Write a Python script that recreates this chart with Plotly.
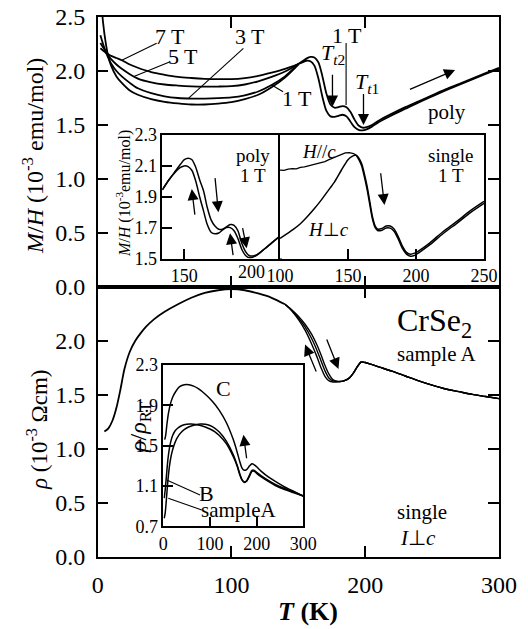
import plotly.graph_objects as go

# ---------------- data ----------------
# Upper main panel: M/H (10^-3 emu/mol) vs T (K), polycrystal, several fields
T_FIELD = [2, 4, 6, 8, 10, 14, 18, 24, 30, 40, 50, 60, 70, 80, 90, 100, 110, 120, 130, 140, 150]
MH_7T = [2.21, 2.19, 2.17, 2.155, 2.14, 2.12, 2.10, 2.06, 2.03, 1.99, 1.965, 1.945, 1.935, 1.928, 1.925,
         1.925, 1.935, 1.955, 1.985, 2.02, 2.065]
MH_5T = [2.26, 2.22, 2.18, 2.14, 2.11, 2.06, 2.02, 1.97, 1.93, 1.895, 1.875, 1.865, 1.858, 1.855, 1.856,
         1.86, 1.875, 1.905, 1.945, 1.995, 2.065]
MH_3T = [2.33, 2.25, 2.18, 2.12, 2.07, 2.00, 1.95, 1.89, 1.84, 1.795, 1.765, 1.75, 1.745, 1.745, 1.748,
         1.755, 1.775, 1.81, 1.87, 1.95, 2.065]
MH_1T = [2.75, 2.45, 2.26, 2.13, 2.05, 1.95, 1.89, 1.82, 1.78, 1.74, 1.715, 1.70, 1.69, 1.69, 1.698,
         1.712, 1.74, 1.78, 1.85, 1.94, 2.06]

T_HYST = [150, 153, 156, 159, 162, 165, 168, 171, 174, 177, 180, 183, 186, 189, 192, 195, 198, 201,
          205, 210, 220, 230, 240, 250, 260, 270, 280, 290, 300]
MH_WARM = [2.065, 2.09, 2.115, 2.13, 2.125, 2.08, 1.95, 1.79, 1.69, 1.66, 1.665, 1.675, 1.665, 1.62,
           1.55, 1.495, 1.475, 1.48, 1.50, 1.54, 1.605, 1.665, 1.72, 1.775, 1.83, 1.88, 1.93, 1.98, 2.03]
MH_COOL = [2.065, 2.08, 2.095, 2.09, 2.05, 1.93, 1.76, 1.63, 1.58, 1.575, 1.585, 1.595, 1.58, 1.53,
           1.48, 1.455, 1.45, 1.46, 1.485, 1.525, 1.59, 1.65, 1.71, 1.765, 1.82, 1.872, 1.922, 1.972, 2.02]

# Upper-left inset: poly, 1 T
T_POLY = [138.5, 142, 145, 148, 150, 152, 154, 156, 158, 160, 162, 164, 166, 168, 170, 172, 174, 176,
          178, 180, 182, 184, 186, 188, 192, 196, 200]
MH_POLY_UP = [1.944, 2.01, 2.06, 2.11, 2.14, 2.15, 2.14, 2.09, 2.01, 1.94, 1.83, 1.75, 1.71, 1.69, 1.69,
              1.705, 1.72, 1.715, 1.68, 1.60, 1.545, 1.518, 1.517, 1.525, 1.563, 1.604, 1.645]
MH_POLY_LO = [1.944, 2.01, 2.055, 2.09, 2.10, 2.095, 2.07, 2.00, 1.90, 1.81, 1.72, 1.67, 1.66, 1.665,
              1.685, 1.70, 1.70, 1.68, 1.63, 1.56, 1.52, 1.505, 1.51, 1.522, 1.563, 1.604, 1.645]

# Upper-right inset: single crystal, 1 T
T_PAR = [100, 103, 106, 109, 112, 115, 118, 121, 124, 127, 130, 133, 136, 139, 142, 145, 148, 151, 154, 156]
MH_PAR = [2.073, 2.071, 2.079, 2.082, 2.080, 2.090, 2.094, 2.100, 2.106, 2.112, 2.120, 2.128, 2.140,
          2.150, 2.162, 2.174, 2.184, 2.186, 2.180, 2.170]
T_PERP = [100, 105, 110, 115, 120, 125, 130, 135, 140, 145, 150, 153, 156]
MH_PERP = [1.63, 1.66, 1.69, 1.725, 1.77, 1.82, 1.875, 1.935, 1.995, 2.07, 2.14, 2.162, 2.170]
T_SINGLE = [156, 158, 160, 162, 164, 166, 168, 170, 172, 175, 178, 181, 184, 187, 190, 193, 196, 199,
            202, 210, 220, 230, 240, 250]
MH_SINGLE_A = [2.17, 2.15, 2.115, 2.05, 1.97, 1.87, 1.77, 1.71, 1.69, 1.695, 1.71, 1.71, 1.69, 1.64,
               1.58, 1.54, 1.528, 1.535, 1.55, 1.60, 1.675, 1.74, 1.81, 1.87]
MH_SINGLE_B = [2.17, 2.14, 2.10, 2.03, 1.95, 1.85, 1.755, 1.70, 1.68, 1.683, 1.697, 1.697, 1.675, 1.625,
               1.565, 1.528, 1.515, 1.52, 1.537, 1.588, 1.662, 1.728, 1.797, 1.857]

# Lower main panel: resistivity (10^-3 Ohm cm) vs T (K), single crystal sample A
T_RHO = [5, 8, 11, 14, 17, 20, 24, 28, 32, 36, 42, 50, 60, 70, 80, 90, 100, 110, 120, 130, 140]
RHO = [1.16, 1.19, 1.26, 1.38, 1.55, 1.74, 1.90, 2.00, 2.07, 2.13, 2.20, 2.27, 2.34, 2.40, 2.445, 2.47,
       2.48, 2.47, 2.44, 2.40, 2.34]
T_RHO_HYST = [140, 145, 150, 155, 160, 164, 167, 170, 173, 176, 180, 184, 188, 191, 194, 197, 200, 204,
              210, 220, 230, 240, 250, 260, 270, 280, 290, 300]
RHO_OUT = [2.34, 2.29, 2.23, 2.155, 2.06, 1.96, 1.87, 1.77, 1.69, 1.64, 1.625, 1.63, 1.655, 1.70, 1.76,
           1.805, 1.80, 1.785, 1.76, 1.72, 1.675, 1.63, 1.59, 1.555, 1.53, 1.505, 1.485, 1.465]
RHO_MID = [2.34, 2.285, 2.215, 2.13, 2.02, 1.91, 1.815, 1.72, 1.655, 1.63, 1.623, 1.63, 1.655, 1.70,
           1.76, 1.805, 1.80, 1.785, 1.76, 1.72, 1.675, 1.63, 1.59, 1.555, 1.53, 1.505, 1.485, 1.465]
RHO_IN = [2.34, 2.28, 2.20, 2.10, 1.97, 1.85, 1.75, 1.67, 1.63, 1.62, 1.622, 1.63, 1.655, 1.70, 1.76,
          1.805, 1.80, 1.785, 1.76, 1.72, 1.675, 1.63, 1.59, 1.555, 1.53, 1.505, 1.485, 1.465]

# Lower inset: rho / rho_RT for samples A, B, C
T_C = [3, 5, 8, 11, 15, 20, 27, 35, 45, 55, 65, 75, 90, 105, 120, 135, 150, 158, 164, 169, 174, 179,
       185, 190, 195, 200, 210, 225, 240, 260, 280, 300]
NORM_C = [1.56, 1.60, 1.72, 1.82, 1.91, 1.98, 2.04, 2.085, 2.105, 2.105, 2.09, 2.065, 2.01, 1.94, 1.85,
          1.73, 1.56, 1.44, 1.34, 1.275, 1.255, 1.265, 1.30, 1.32, 1.31, 1.29, 1.245, 1.19, 1.145, 1.09,
          1.045, 1.0]
T_AB = [2, 4, 6, 8, 10, 13, 16, 20, 25, 30, 40, 50, 60, 70, 80, 90, 100, 110, 120, 135, 150, 158, 164,
        169, 174, 179, 185, 190, 195, 200, 210, 225, 240, 260, 280, 300]
NORM_A = [0.78, 0.83, 0.93, 1.05, 1.16, 1.29, 1.38, 1.46, 1.53, 1.58, 1.64, 1.675, 1.695, 1.708, 1.714,
          1.712, 1.70, 1.675, 1.635, 1.545, 1.41, 1.31, 1.22, 1.16, 1.14, 1.155, 1.21, 1.255, 1.255,
          1.235, 1.20, 1.155, 1.115, 1.075, 1.04, 1.0]
NORM_B = [0.98, 1.06, 1.16, 1.27, 1.37, 1.47, 1.54, 1.60, 1.645, 1.67, 1.70, 1.713, 1.715, 1.71, 1.70,
          1.685, 1.665, 1.64, 1.60, 1.52, 1.39, 1.30, 1.21, 1.155, 1.135, 1.15, 1.20, 1.245, 1.245,
          1.225, 1.19, 1.145, 1.105, 1.065, 1.033, 1.0]

# tick values / labels
MAIN_T_TICKS = [0, 100, 200, 300]
MAIN_Y_TICKS = [0.0, 0.5, 1.0, 1.5, 2.0, 2.5]
INSET_MH_TICKS = [1.5, 1.7, 1.9, 2.1, 2.3]
INSET_POLY_T_TICKS = [150]
INSET_SINGLE_T_TICKS = [100, 150, 200, 250]
INSET_RHO_TICKS = [0.7, 1.1, 1.5, 1.9, 2.3]
INSET_RHO_T_TICKS = [0, 100, 200, 300]

# ---------------- layout helpers ----------------
W, H = 528, 629
FONT = "Liberation Serif"


def fx(px):
    return px / W


def fy(py):
    return 1 - py / H


MAIN_X = [fx(97.7), fx(499)]
TOP_Y = [fy(287), fy(17)]
BOT_Y = [fy(556.7), fy(287)]
INL_X = [fx(162.3), fx(280)]
INR_X = [fx(280), fx(484)]
INT_Y = [fy(258.5), fy(135)]
INB_X = [fx(163.3), fx(303.3)]
INB_Y = [fy(526.3), fy(365)]

fig = go.Figure()
LINE = dict(color="black", width=1.8, shape="spline", smoothing=0.8)
LINE_IN = dict(color="black", width=1.5, shape="spline", smoothing=0.8)


def add(x, y, xa, ya, line):
    fig.add_trace(go.Scatter(x=x, y=y, mode="lines", line=line, xaxis=xa, yaxis=ya,
                             showlegend=False, hoverinfo="skip"))


for mh in (MH_7T, MH_5T, MH_3T, MH_1T):
    add(T_FIELD, mh, "x", "y", LINE)
add(T_HYST, MH_WARM, "x", "y", LINE)
add(T_HYST, MH_COOL, "x", "y", LINE)

add(T_POLY, MH_POLY_UP, "x3", "y3", LINE_IN)
add(T_POLY, MH_POLY_LO, "x3", "y3", LINE_IN)

add(T_PAR, MH_PAR, "x4", "y4", dict(color="black", width=1.3, shape="linear"))
add(T_PERP, MH_PERP, "x4", "y4", LINE_IN)
add(T_SINGLE, MH_SINGLE_A, "x4", "y4", LINE_IN)
add(T_SINGLE, MH_SINGLE_B, "x4", "y4", LINE_IN)

add(T_RHO, RHO, "x2", "y2", LINE)
for rr in (RHO_OUT, RHO_MID, RHO_IN):
    add(T_RHO_HYST, rr, "x2", "y2", dict(color="black", width=1.4, shape="spline", smoothing=0.8))

add(T_C, NORM_C, "x5", "y5", LINE_IN)
add(T_AB, NORM_B, "x5", "y5", LINE_IN)
add(T_AB, NORM_A, "x5", "y5", LINE_IN)

main_ax = dict(showline=True, linecolor="black", linewidth=1.5, mirror="ticks", ticks="inside",
               ticklen=11, tickwidth=1.5, tickcolor="black", showgrid=False, zeroline=False,
               automargin=False, ticklabelstandoff=6,
               tickfont=dict(family=FONT, size=24, color="black"))
in_ax = dict(showline=True, linecolor="black", linewidth=1.5, mirror=True, ticks="inside",
             ticklen=10, tickwidth=1.5, tickcolor="black", showgrid=False, zeroline=False,
             automargin=False,
             tickfont=dict(family=FONT, size=18, color="black"))

fig.update_layout(
    template="none",
    width=W, height=H, autosize=False, margin=dict(l=0, r=0, t=0, b=0, pad=0),
    paper_bgcolor="white", plot_bgcolor="white", showlegend=False,
    font=dict(family=FONT, color="black"),
    xaxis=dict(main_ax, domain=MAIN_X, range=[0, 300], tickvals=[100, 200], showticklabels=False,
               anchor="y"),
    yaxis=dict(main_ax, domain=TOP_Y, range=[0, 2.5], tickvals=MAIN_Y_TICKS,
               ticktext=[f"{v:.1f}" for v in MAIN_Y_TICKS], anchor="x"),
    xaxis2=dict(main_ax, domain=MAIN_X, range=[0, 300], tickvals=MAIN_T_TICKS,
                ticktext=[str(v) for v in MAIN_T_TICKS], anchor="y2"),
    yaxis2=dict(main_ax, domain=BOT_Y, range=[0, 2.5], tickvals=MAIN_Y_TICKS[:-1] + [2.5],
                ticktext=[f"{v:.1f}" for v in MAIN_Y_TICKS[:-1]] + [""], anchor="x2"),
    xaxis3=dict(in_ax, domain=INL_X, range=[138.5, 200], tickvals=INSET_POLY_T_TICKS,
                ticktext=[str(v) for v in INSET_POLY_T_TICKS], anchor="y3"),
    yaxis3=dict(in_ax, domain=INT_Y, range=[1.5, 2.3], tickvals=INSET_MH_TICKS,
                ticktext=[f"{v:.1f}" for v in INSET_MH_TICKS], anchor="x3"),
    xaxis4=dict(in_ax, domain=INR_X, range=[100, 250], tickvals=INSET_SINGLE_T_TICKS,
                ticktext=[str(v) for v in INSET_SINGLE_T_TICKS], anchor="y4"),
    yaxis4=dict(in_ax, domain=INT_Y, range=[1.5, 2.3], tickvals=[], showticklabels=False,
                anchor="x4"),
    xaxis5=dict(in_ax, domain=INB_X, range=[0, 300], tickvals=INSET_RHO_T_TICKS,
                ticktext=[str(v) for v in INSET_RHO_T_TICKS], anchor="y5"),
    yaxis5=dict(in_ax, domain=INB_Y, range=[0.7, 2.3], tickvals=INSET_RHO_TICKS,
                ticktext=[f"{v:.1f}" for v in INSET_RHO_TICKS], anchor="x5"),
)

ann = []
shapes = []


def text(x, y, s, size, xref="x", yref="y", angle=0, xanchor="center", yanchor="middle", **kw):
    ann.append(dict(x=x, y=y, xref=xref, yref=yref, text=s, showarrow=False, textangle=angle,
                    xanchor=xanchor, yanchor=yanchor,
                    font=dict(family=FONT, size=size, color="black"), **kw))


def arrow(x0, y0, x1, y1, xref="x", yref="y", size=1.7):
    ann.append(dict(x=x1, y=y1, ax=x0, ay=y0, xref=xref, yref=yref, axref=xref, ayref=yref,
                    text="", showarrow=True, arrowhead=2, arrowsize=size, arrowwidth=1.3,
                    arrowcolor="black", standoff=0, startstandoff=0))


def seg(x0, y0, x1, y1, xref="x", yref="y", width=1.1):
    shapes.append(dict(type="line", x0=x0, y0=y0, x1=x1, y1=y1, xref=xref, yref=yref,
                       line=dict(color="black", width=width)))


# axis titles
text(fx(33), fy(156), "<i>M</i>/<i>H</i> (10<sup>-3</sup> emu/mol)", 24, "paper", "paper", -90)
text(fx(37), fy(430), "<i>ρ</i> (10<sup>-3</sup> Ωcm)", 23, "paper", "paper", -90)
text(fx(308), fy(611), "<b><i>T</i> (K)</b>", 26, "paper", "paper")
text(fx(123), fy(194), "<i>M</i>/<i>H</i> (10<sup>-3</sup>emu/mol)", 16, "paper", "paper", -90)
text(fx(140), fy(428), "<i>ρ</i>/<i>ρ</i><sub>RT</sub>", 24, "paper", "paper", -90)
# "200" label of the left inset, pushed left of the shared edge
text(200, fy(272), "200", 18, "x3", "paper", xanchor="right", xshift=-13)

# upper main panel labels
text(54.1, 2.318, "7 T", 22)
text(63.8, 2.13, "5 T", 22)
text(113.9, 2.318, "3 T", 22)
text(148.8, 1.747, "1 T", 22)
text(186.5, 2.333, "1 T", 22)
text(176.2, 2.16, "<i>T</i><sub><i>t</i>2</sub>", 22)
text(201.2, 1.886, "<i>T</i><sub><i>t</i>1</sub>", 22)
text(261, 1.62, "poly", 21)
seg(18, 2.10, 44.1, 2.256)
seg(26.6, 1.947, 54.1, 2.086)
seg(67.8, 1.747, 108.9, 2.21)
seg(130.1, 1.87, 138.6, 1.808)
seg(185.7, 2.26, 185.7, 1.685)
arrow(175.5, 1.98, 175.5, 1.67)
arrow(198.7, 1.80, 198.7, 1.50)
arrow(232.3, 1.824, 267.2, 2.01)

# upper-left inset
text(186, 2.17, "poly", 19, "x3", "y3")
text(186, 2.04, "1 T", 19, "x3", "y3")
arrow(155.6, 1.775, 153.9, 1.95, "x3", "y3")
arrow(166.0, 2.03, 167.8, 1.80, "x3", "y3")
arrow(175.6, 1.512, 173.9, 1.663, "x3", "y3")
arrow(180.3, 1.706, 182.6, 1.566, "x3", "y3")

# upper-right inset
text(128.5, 2.19, "<i>H</i>//<i>c</i>", 19, "x4", "y4")
text(135.9, 1.685, "<i>H</i>⊥<i>c</i>", 19, "x4", "y4")
text(225.6, 2.17, "single", 19, "x4", "y4")
text(225.6, 2.04, "1 T", 19, "x4", "y4")
arrow(173.9, 2.062, 176.8, 1.846, "x4", "y4")

# lower main panel
text(251.5, 2.167, "CrSe<sub>2</sub>", 32, "x2", "y2")
text(253.6, 1.882, "sample A", 21, "x2", "y2")
text(242.3, 0.418, "single", 21, "x2", "y2")
text(239.8, 0.171, "<i>I</i>⊥<i>c</i>", 21, "x2", "y2")
arrow(163.8, 1.703, 155.0, 1.966, "x2", "y2")
arrow(170.8, 2.028, 180.0, 1.74, "x2", "y2")

# lower inset
text(128.8, 2.07, "C", 22, "x5", "y5")
text(93.2, 1.028, "B", 22, "x5", "y5")
text(161, 0.862, "sampleA", 21, "x5", "y5")
seg(7.3, 1.16, 78.8, 1.011, "x5", "y5")
seg(10.7, 0.978, 82.5, 0.862, "x5", "y5")
arrow(179, 1.36, 171.8, 1.608, "x5", "y5")

fig.update_layout(annotations=ann, shapes=shapes)
fig.write_html("out.html", config={"displayModeBar": False},
               post_script="document.body.style.margin='0';document.body.style.overflow='hidden';")
